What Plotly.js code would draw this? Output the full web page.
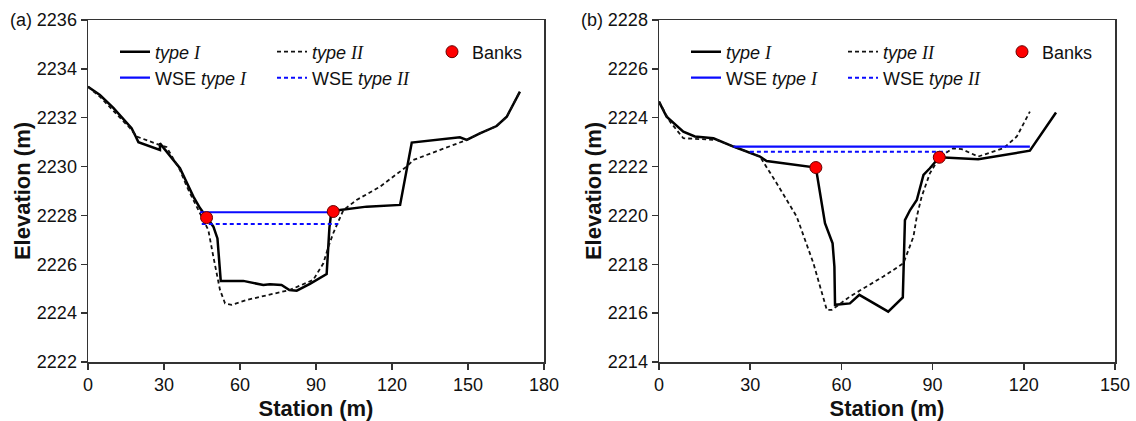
<!DOCTYPE html>
<html>
<head>
<meta charset="utf-8">
<script src="https://cdn.plot.ly/plotly-3.0.1.min.js"></script>
<style>html,body{margin:0;padding:0;background:#fff;}#chart{width:1136px;height:421px;}</style>
</head>
<body>
<div id="chart"></div>
<script>
// ---- Panel (a) data ----
const stationA_typeI = [0, 4.7, 10, 17.2, 18.5, 19.9, 28.4, 28.4, 36.3, 41.6, 44.2, 46.8, 49.5, 51.1, 52.4, 61.3, 69.2, 71.8, 76.4, 79.5, 82.4, 87.6, 94.2, 95.3, 96.0, 96.8, 99.5, 110, 123.2, 127.8, 146.8, 149.5, 154.7, 161.3, 165.3, 170.5];
const elevA_typeI = [2233.27, 2232.93, 2232.4, 2231.57, 2231.3, 2231.0, 2230.68, 2230.95, 2229.93, 2228.77, 2228.3, 2227.95, 2227.54, 2227.06, 2225.32, 2225.32, 2225.15, 2225.18, 2225.15, 2224.95, 2224.92, 2225.2, 2225.6, 2227.5, 2228.1, 2228.16, 2228.22, 2228.36, 2228.43, 2230.98, 2231.2, 2231.09, 2231.36, 2231.66, 2232.04, 2233.07];
const stationA_typeII = [0, 4.7, 16.6, 19.2, 28.4, 31, 36.3, 39, 42.9, 45.5, 47.5, 49.5, 52.1, 54.1, 56.7, 62.6, 79.7, 88.9, 92.9, 94.9, 96.8, 100.8, 106, 115.3, 125.8, 128.4, 149.5, 154.7, 161.3, 165.3, 170.5];
const elevA_typeII = [2233.27, 2232.86, 2231.57, 2231.23, 2230.88, 2230.8, 2229.86, 2229.18, 2228.36, 2227.8, 2227.4, 2226.3, 2224.95, 2224.4, 2224.34, 2224.54, 2224.95, 2225.36, 2226.04, 2226.72, 2227.27, 2228.22, 2228.63, 2229.18, 2230.0, 2230.27, 2231.09, 2231.36, 2231.66, 2232.04, 2233.07];
const wseA_typeI_x = [44.2, 96.8];
const wseA_typeI_y = [2228.13, 2228.13];
const wseA_typeII_x = [44.9, 98.8];
const wseA_typeII_y = [2227.65, 2227.65];
const banksA_x = [46.8, 96.8];
const banksA_y = [2227.91, 2228.16];

// ---- Panel (b) data ----
const stationB_typeI = [0, 2.5, 8, 11.8, 17.9, 24.5, 33.2, 35.4, 51.6, 54.6, 57.1, 57.7, 57.9, 62.8, 65.9, 75.4, 80.2, 80.9, 82.6, 84.8, 87, 89.1, 92.2, 105, 122, 130.6];
const elevB_typeI = [2224.66, 2224.04, 2223.43, 2223.23, 2223.16, 2222.82, 2222.41, 2222.23, 2221.96, 2219.68, 2218.86, 2217.9, 2216.34, 2216.4, 2216.75, 2216.06, 2216.64, 2219.81, 2220.22, 2220.63, 2221.66, 2221.93, 2222.38, 2222.3, 2222.65, 2224.21];
const stationB_typeII = [0, 3.6, 8, 19, 24.5, 33.2, 38.7, 45.3, 50.8, 55.2, 56.8, 62.8, 73.8, 80.4, 83.7, 84.8, 86.4, 89.1, 92.4, 96.8, 99.6, 105, 113.3, 117.7, 122];
const elevB_typeII = [2224.66, 2223.84, 2223.16, 2223.09, 2222.82, 2222.41, 2221.32, 2219.95, 2218.04, 2216.13, 2216.13, 2216.68, 2217.5, 2218.04, 2219.13, 2219.95, 2220.77, 2221.72, 2222.41, 2222.75, 2222.71, 2222.41, 2222.75, 2223.23, 2224.25];
const wseB_typeI_x = [24.5, 122];
const wseB_typeI_y = [2222.82, 2222.82];
const wseB_typeII_x = [29.9, 94.6];
const wseB_typeII_y = [2222.61, 2222.61];
const banksB_x = [51.6, 92.2];
const banksB_y = [2221.96, 2222.38];

// ---- labels ----
const serifI = '<span style="font-family:Liberation Serif">I</span>';
const serifII = '<span style="font-family:Liberation Serif">II</span>';
const nameTypeI = '<i>type ' + serifI + '</i>';
const nameTypeII = '<i>type ' + serifII + '</i>';
const nameWseI = 'WSE <i>type ' + serifI + '</i>';
const nameWseII = 'WSE <i>type ' + serifII + '</i>';
const nameBanks = 'Banks';
const panelLabels = ['(a)', '(b)'];
const xTitle = 'Station (m)';
const yTitle = 'Elevation (m)';

const FONT = 'Liberation Sans, Arial, sans-serif';
const W = 1136, H = 421, MT = 20, MB = 59;
const PH = H - MT - MB;
function px2x(p){ return p / W; }
function py2y(p){ return (H - MB - p) / PH; }

function panelTraces(xa, ya, d, legs){
  return [
    {x: d.s1, y: d.e1, mode: 'lines', name: nameTypeI, xaxis: xa, yaxis: ya, legend: legs[0],
     line: {color: '#000', width: 2.5}},
    {x: d.s2, y: d.e2, mode: 'lines', name: nameTypeII, xaxis: xa, yaxis: ya, legend: legs[0],
     line: {color: '#111', width: 1.8, dash: '4px,3px'}},
    {x: d.w1x, y: d.w1y, mode: 'lines', name: nameWseI, xaxis: xa, yaxis: ya, legend: legs[1],
     line: {color: '#0a0aff', width: 2.2}},
    {x: d.w2x, y: d.w2y, mode: 'lines', name: nameWseII, xaxis: xa, yaxis: ya, legend: legs[1],
     line: {color: '#0a0aff', width: 2, dash: '4px,3px'}},
    {x: d.bx, y: d.by, mode: 'markers', name: nameBanks, xaxis: xa, yaxis: ya, legend: legs[2],
     marker: {color: '#ff0000', size: 12, line: {color: '#600', width: 1}}}
  ];
}

const traces = [].concat(
  panelTraces('x', 'y', {s1: stationA_typeI, e1: elevA_typeI, s2: stationA_typeII, e2: elevA_typeII,
    w1x: wseA_typeI_x, w1y: wseA_typeI_y, w2x: wseA_typeII_x, w2y: wseA_typeII_y, bx: banksA_x, by: banksA_y},
    ['legend', 'legend2', 'legend3']),
  panelTraces('x2', 'y2', {s1: stationB_typeI, e1: elevB_typeI, s2: stationB_typeII, e2: elevB_typeII,
    w1x: wseB_typeI_x, w1y: wseB_typeI_y, w2x: wseB_typeII_x, w2y: wseB_typeII_y, bx: banksB_x, by: banksB_y},
    ['legend4', 'legend5', 'legend6'])
);

function axisX(domain, range, anchor){
  return {domain: domain, range: range, anchor: anchor, dtick: 30, tick0: 0,
    showgrid: false, zeroline: false, showline: true, mirror: true,
    linecolor: '#333', linewidth: 1.5, ticks: 'outside', ticklen: 6, tickcolor: '#333', tickwidth: 1.5,
    tickfont: {family: FONT, size: 18, color: '#111'},
    title: {text: xTitle, font: {family: FONT, size: 22, weight: 'bold', color: '#111'}, standoff: 6}};
}
function axisY(range, anchor){
  return {range: range, anchor: anchor, dtick: 2,
    showgrid: false, zeroline: false, showline: true, mirror: true,
    linecolor: '#333', linewidth: 1.5, ticks: 'outside', ticklen: 6, tickcolor: '#333', tickwidth: 1.5,
    tickfont: {family: FONT, size: 18, color: '#111'},
    title: {text: yTitle, font: {family: FONT, size: 22, weight: 'bold', color: '#111'}}};
}
function legendAt(xp, yp, ew){
  const L = {x: px2x(xp), y: py2y(yp), xanchor: 'left', yanchor: 'middle', orientation: 'h',
    bgcolor: 'rgba(0,0,0,0)', borderwidth: 0, font: {family: FONT, size: 18, color: '#111'},
    tracegroupgap: 0, itemclick: false};
  if (ew) { L.entrywidth = ew; L.entrywidthmode = 'pixels'; }
  return L;
}

const layout = {
  width: W, height: H,
  margin: {l: 0, r: 0, t: MT, b: MB},
  paper_bgcolor: '#fff', plot_bgcolor: '#fff',
  showlegend: true,
  font: {family: FONT, color: '#111'},
  xaxis: axisX([88 / W, 544 / W], [0, 180], 'y'),
  yaxis: Object.assign(axisY([2222, 2236], 'x'), {domain: [0, 1]}),
  xaxis2: axisX([659 / W, 1115 / W], [0, 150], 'y2'),
  yaxis2: Object.assign(axisY([2214, 2228], 'x2'), {domain: [0, 1]}),
  legend: legendAt(115, 52, 112),
  legend2: legendAt(115, 78, 112),
  legend3: legendAt(432, 52),
  legend4: legendAt(686, 52, 112),
  legend5: legendAt(686, 78, 112),
  legend6: legendAt(1002, 52),
  annotations: [
    {text: panelLabels[0], xref: 'paper', yref: 'paper', x: px2x(8), y: py2y(20), xanchor: 'left', yanchor: 'middle',
     showarrow: false, font: {family: FONT, size: 18, color: '#111'}},
    {text: panelLabels[1], xref: 'paper', yref: 'paper', x: px2x(579), y: py2y(20), xanchor: 'left', yanchor: 'middle',
     showarrow: false, font: {family: FONT, size: 18, color: '#111'}}
  ]
};

Plotly.newPlot('chart', traces, layout, {displayModeBar: false, staticPlot: true});
</script>
</body>
</html>
